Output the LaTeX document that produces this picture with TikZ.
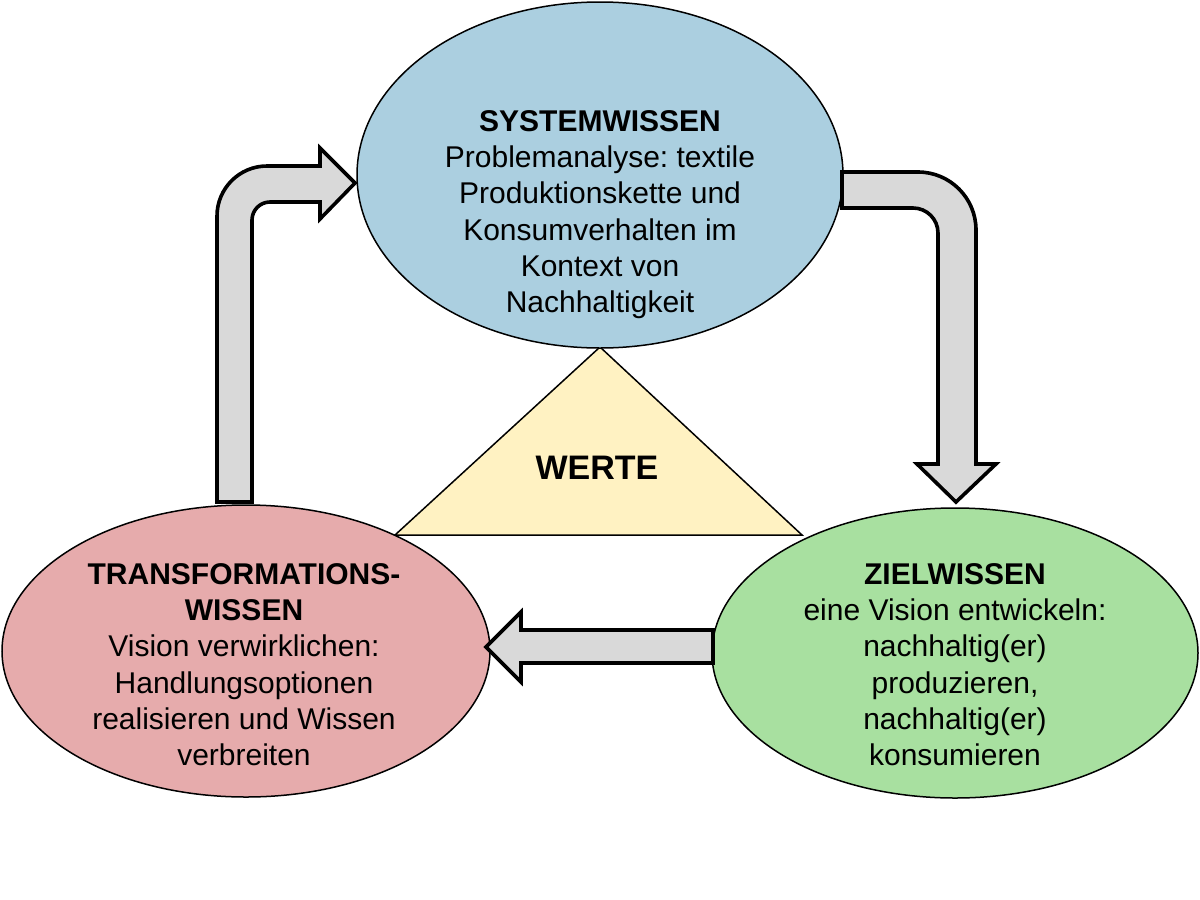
\documentclass[tikz,border=0pt]{standalone}
\usepackage{fontspec}
\setmainfont{Liberation Sans}
\usetikzlibrary{shapes.geometric}
\frenchspacing
\definecolor{sysblue}{RGB}{171,207,224}
\definecolor{transpink}{RGB}{230,171,172}
\definecolor{zielgreen}{RGB}{168,224,160}
\definecolor{werteyellow}{RGB}{255,242,194}
\definecolor{arrowgray}{RGB}{217,217,217}
\tikzset{
  blob/.style={ellipse, draw=black, line width=0.75pt, inner sep=0pt},
  txt/.style={align=center, inner sep=0pt, font=\fontsize{15}{18.15}\selectfont},
  bigarrow/.style={draw=black, fill=arrowgray, line width=1.8pt, line join=miter},
}
\begin{document}
\begin{tikzpicture}[x=0.5pt,y=-0.5pt]
\useasboundingbox (0,0) rectangle (1200,900);
% triangle
\coordinate (apex) at (600,347);
\coordinate (bl) at (395,535);
\coordinate (br) at (802,535);
\draw[fill=werteyellow, line width=0.75pt] (apex) -- (bl) -- (br) -- cycle;
\node[font=\fontsize{17}{20}\selectfont\bfseries, inner sep=0pt] (werte) at (597,468) {WERTE};
% ellipses
\node[blob, fill=sysblue, minimum width=243pt, minimum height=173pt] (sys) at (600,175) {};
\node[blob, fill=transpink, minimum width=244pt, minimum height=146pt] (trans) at (246,651) {};
\node[blob, fill=zielgreen, minimum width=243pt, minimum height=145pt] (ziel) at (955,653) {};
% texts
\node[txt, anchor=north] (systxt) at (600,110) {\textbf{SYSTEMWISSEN}\\Problemanalyse: textile\\Produktionskette und\\Konsumverhalten im\\Kontext von\\Nachhaltigkeit};
\node[txt, anchor=north] (transtxt) at (244,563) {\textbf{TRANSFORMATIONS-}\\\textbf{WISSEN}\\Vision verwirklichen:\\Handlungsoptionen\\realisieren und Wissen\\verbreiten};
\node[txt, anchor=north] (zieltxt) at (955,563) {\textbf{ZIELWISSEN}\\eine Vision entwickeln:\\nachhaltig(er)\\produzieren,\\nachhaltig(er)\\konsumieren};
% arrows
\draw[bigarrow] (217,502) -- (217,216) .. controls (217,188.4) and (239.4,166) .. (267,166) -- (320,166) -- (320,148) -- (355,183) -- (320,219) -- (320,202) -- (270,202) .. controls (260.1,202) and (252,210.1) .. (252,220) -- (252,502) -- cycle;
\draw[bigarrow] (842,172) -- (918,172) .. controls (950,172) and (976,198) .. (976,230) -- (976,464) -- (996,464) -- (956,502) -- (917,464) -- (938,464) -- (938,233) .. controls (938,219.2) and (926.8,208) .. (913,208) -- (842,208) -- cycle;
\draw[bigarrow] (713,630) -- (521,630) -- (521,612) -- (486,647) -- (521,682) -- (521,663) -- (713,663) -- cycle;
\end{tikzpicture}
\end{document}
